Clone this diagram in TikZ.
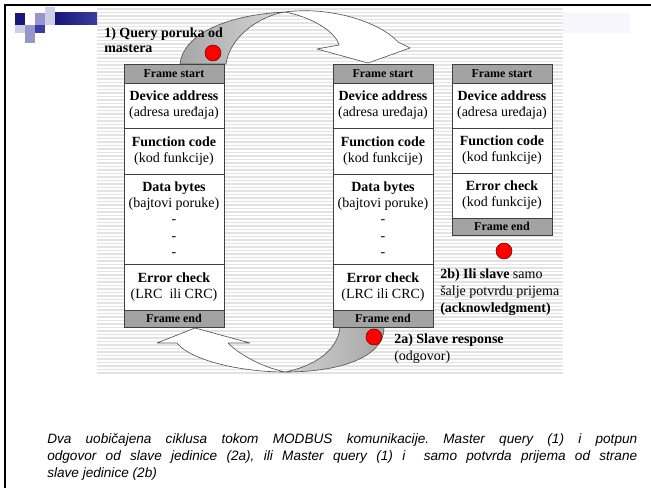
\documentclass[tikz,border=0pt]{standalone}
\usepackage{fontspec}
\setmainfont{Liberation Serif}
\newfontfamily\capfont{Liberation Sans}
\usetikzlibrary{positioning}
\definecolor{logonavy}{RGB}{24,24,122}
\definecolor{logoblue}{RGB}{60,60,160}
\definecolor{logolav}{RGB}{150,150,204}
\definecolor{logopale}{RGB}{206,206,232}
\definecolor{framegray}{RGB}{163,163,163}
\definecolor{patchblue}{RGB}{246,246,252}
\tikzset{
  stripe/.style = {gray!22, line width=1.1pt},
  cell/.style = {draw=black!75, line width=0.6pt, fill=white, minimum width=75pt,
    inner sep=0pt, outer sep=0pt, align=center,
    font=\fontsize{10.5}{12.2}\selectfont},
  framebar/.style = {cell, fill=framegray, font=\fontsize{9}{10}\selectfont\bfseries},
  dot/.style = {circle, draw=red!45!black, line width=0.4pt, fill=red,
    minimum size=12pt, inner sep=0pt},
  ribbon/.style = {draw=black!65, line width=0.5pt, line join=round},
  tag/.style = {align=left, inner sep=0pt, font=\fontsize{10.5}{12.75}\selectfont},
  capnode/.style = {inner sep=0pt, text width=442.5pt, align=justify,
    font=\capfont\itshape\frenchspacing\fontsize{10.2}{12.75}\selectfont}
}

\begin{document}
\begin{tikzpicture}[x=0.75pt,y=-0.75pt]
  \useasboundingbox (0,0) rectangle (651,488);
  \fill[white] (0,0) rectangle (651,488);
  % striped background
  \foreach \y in {9,12.5,...,374} \draw[stripe] (97,\y) -- (563,\y);
  \fill[patchblue] (563,13) rectangle (630,33);
  % border
  \draw[line width=2pt] (5,488) -- (5,5) -- (651,5);
  % logo
  \fill[logonavy] (15,13) rectangle (25,25);
  \fill[logolav] (35,13) rectangle (45,25);
  \fill[logopale] (45,7) rectangle (55,25);
  \shade[left color=logonavy, right color=logoblue] (55,13) rectangle (97,25);
  \fill[logopale] (15,25) rectangle (25,33);
  \fill[logolav] (25,25) rectangle (35,33);
  \fill[logoblue] (35,25) rectangle (45,33);
  \fill[logolav] (25,33) rectangle (35,43);
  % arrow: query (top)
  \draw[ribbon, left color=gray!70, right color=gray!30]
    (180,64) .. controls (183,35) and (225,15) .. (285,12)
    .. controls (260,16) and (230,36) .. (226,64) -- cycle;
  \draw[ribbon, fill=white]
    (285,12) .. controls (330,6) and (380,22) .. (398,42)
    -- (410,48) -- (368,63) -- (317,49) -- (339,45)
    .. controls (336,33) and (315,18) .. (285,12) -- cycle;
  % arrow: response (bottom)
  \draw[ribbon, left color=gray!35, right color=gray!70]
    (384,327) .. controls (385,355) and (345,372) .. (285,372)
    .. controls (315,366) and (338,350) .. (340,327) -- cycle;
  \draw[ribbon, fill=white]
    (285,372) .. controls (240,372) and (190,360) .. (177,343)
    -- (157,343) -- (195,328) -- (250,343) -- (228,343)
    .. controls (240,355) and (262,367) .. (285,372) -- cycle;
  % query and response frames
  \foreach \c/\x/\err in {a/124/{(LRC\ \ ili CRC)}, b/333/{(LRC ili CRC)}} {
    \node[framebar, minimum height=14.25pt, anchor=north west] (\c-start) at (\x,64) {Frame start};
    \node[cell, minimum height=33.75pt, below=0pt of \c-start] (\c-addr) {\textbf{Device address}\\(adresa uređaja)};
    \node[cell, minimum height=34.5pt, below=0pt of \c-addr] (\c-func) {\textbf{Function code}\\(kod funkcije)};
    \node[cell, minimum height=67.5pt, below=0pt of \c-func] (\c-data) {\textbf{Data bytes}\\(bajtovi poruke)\\-\\-\\-};
    \node[cell, minimum height=34.5pt, below=0pt of \c-data] (\c-err) {\textbf{Error check}\\\err};
    \node[framebar, minimum height=12.75pt, below=0pt of \c-err] (\c-end) {Frame end};
  }
  % acknowledgment frame
  \node[framebar, minimum height=14.25pt, anchor=north west] (c-start) at (452,64) {Frame start};
  \node[cell, minimum height=33.75pt, below=0pt of c-start] (c-addr) {\textbf{Device address}\\(adresa uređaja)};
  \node[cell, minimum height=33.75pt, below=0pt of c-addr] (c-func) {\textbf{Function code}\\(kod funkcije)};
  \node[cell, minimum height=33.75pt, below=0pt of c-func] (c-err) {\textbf{Error check}\\(kod funkcije)};
  \node[framebar, minimum height=12.75pt, below=0pt of c-err] (c-end) {Frame end};
  % red dots
  \node[dot] (qdot) at (213,53) {};
  \node[dot] (adot) at (374,337) {};
  \node[dot] (bdot) at (504,251) {};
  % labels
  \node[tag, anchor=west, font=\fontsize{10.5}{11.25}\selectfont] (qlabel) at (104,40.5)
    {\textbf{1) Query poruka od}\\\textbf{mastera}};
  \node[tag, anchor=west] (alabel) at (394,348.5) {\textbf{2a) Slave response}\\(odgovor)};
  \node[tag, anchor=west] (blabel) at (440,292)
    {\textbf{2b) Ili slave} samo\\šalje potvrdu prijema\\\textbf{(acknowledgment)}};
  % caption
  \node[capnode, anchor=north west] (caption) at (47,433)
    {Dva uobičajena ciklusa tokom MODBUS komunikacije. Master query (1) i potpun\linebreak
     odgovor od slave jedinice (2a), ili Master query (1) i\ \ samo potvrda prijema od strane\linebreak
     slave jedinice (2b)};
\end{tikzpicture}
\end{document}
